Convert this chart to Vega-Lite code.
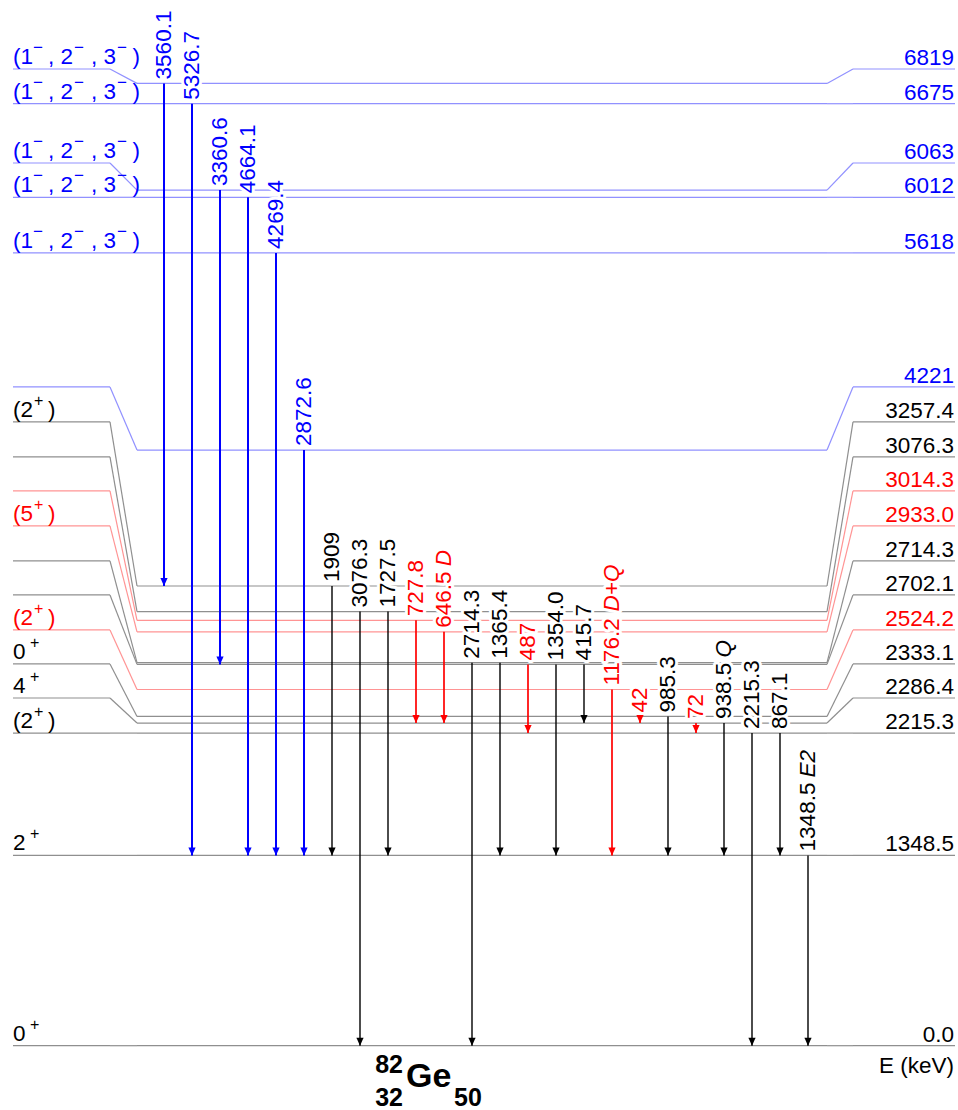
{
  "$schema": "https://vega.github.io/schema/vega-lite/v6.json",
  "width": 958,
  "height": 1110,
  "autosize": "none",
  "padding": 0,
  "background": "white",
  "config": {"view": {"stroke": null}},
  "datasets": {
    "levels": [
      {"E": 6819, "labelE": 6921, "c": "b", "sp": "C", "j": "", "sg": "−", "lab": "6819"},
      {"E": 6675, "labelE": 6675, "c": "b", "sp": "C", "j": "", "sg": "−", "lab": "6675"},
      {"E": 6063, "labelE": 6255, "c": "b", "sp": "C", "j": "", "sg": "−", "lab": "6063"},
      {"E": 6012, "labelE": 6012, "c": "b", "sp": "C", "j": "", "sg": "−", "lab": "6012"},
      {"E": 5618, "labelE": 5618, "c": "b", "sp": "C", "j": "", "sg": "−", "lab": "5618"},
      {"E": 4221, "labelE": 4668, "c": "b", "sp": "", "j": "", "sg": "", "lab": "4221"},
      {"E": 3257.4, "labelE": 4420, "c": "k", "sp": "A", "j": "(2", "sg": "+", "lab": "3257.4"},
      {"E": 3076.3, "labelE": 4172, "c": "k", "sp": "", "j": "", "sg": "", "lab": "3076.3"},
      {"E": 3014.3, "labelE": 3931, "c": "r", "sp": "", "j": "", "sg": "", "lab": "3014.3"},
      {"E": 2933.0, "labelE": 3683, "c": "r", "sp": "A", "j": "(5", "sg": "+", "lab": "2933.0"},
      {"E": 2714.3, "labelE": 3435, "c": "k", "sp": "", "j": "", "sg": "", "lab": "2714.3"},
      {"E": 2702.1, "labelE": 3194, "c": "k", "sp": "", "j": "", "sg": "", "lab": "2702.1"},
      {"E": 2524.2, "labelE": 2946, "c": "r", "sp": "A", "j": "(2", "sg": "+", "lab": "2524.2"},
      {"E": 2333.1, "labelE": 2705, "c": "k", "sp": "B", "j": "0", "sg": "+", "lab": "2333.1"},
      {"E": 2286.4, "labelE": 2464, "c": "k", "sp": "B", "j": "4", "sg": "+", "lab": "2286.4"},
      {"E": 2215.3, "labelE": 2215.3, "c": "k", "sp": "A", "j": "(2", "sg": "+", "lab": "2215.3"},
      {"E": 1348.5, "labelE": 1348.5, "c": "k", "sp": "B", "j": "2", "sg": "+", "lab": "1348.5"},
      {"E": 0, "labelE": 0, "c": "k", "sp": "B", "j": "0", "sg": "+", "lab": "0.0"}
    ],
    "gammas": [
      {"k": 1, "t": "3560.1", "s": "", "ei": 6819, "ef": 3257.4, "c": "b"},
      {"k": 2, "t": "5326.7", "s": "", "ei": 6675, "ef": 1348.5, "c": "b"},
      {"k": 3, "t": "3360.6", "s": "", "ei": 6063, "ef": 2702.1, "c": "b"},
      {"k": 4, "t": "4664.1", "s": "", "ei": 6012, "ef": 1348.5, "c": "b"},
      {"k": 5, "t": "4269.4", "s": "", "ei": 5618, "ef": 1348.5, "c": "b"},
      {"k": 6, "t": "2872.6", "s": "", "ei": 4221, "ef": 1348.5, "c": "b"},
      {"k": 7, "t": "1909", "s": "", "ei": 3257.4, "ef": 1348.5, "c": "k"},
      {"k": 8, "t": "3076.3", "s": "", "ei": 3076.3, "ef": 0, "c": "k"},
      {"k": 9, "t": "1727.5", "s": "", "ei": 3076.3, "ef": 1348.5, "c": "k"},
      {"k": 10, "t": "727.8", "s": "", "ei": 3014.3, "ef": 2286.4, "c": "r"},
      {"k": 11, "t": "646.5", "s": "D", "ei": 2933.0, "ef": 2286.4, "c": "r"},
      {"k": 12, "t": "2714.3", "s": "", "ei": 2714.3, "ef": 0, "c": "k"},
      {"k": 13, "t": "1365.4", "s": "", "ei": 2714.3, "ef": 1348.5, "c": "k"},
      {"k": 14, "t": "487", "s": "", "ei": 2702.1, "ef": 2215.3, "c": "r"},
      {"k": 15, "t": "1354.0", "s": "", "ei": 2702.1, "ef": 1348.5, "c": "k"},
      {"k": 16, "t": "415.7", "s": "", "ei": 2702.1, "ef": 2286.4, "c": "k"},
      {"k": 17, "t": "1176.2", "s": "D+Q", "ei": 2524.2, "ef": 1348.5, "c": "r"},
      {"k": 18, "t": "42", "s": "", "ei": 2333.1, "ef": 2286.4, "c": "r"},
      {"k": 19, "t": "985.3", "s": "", "ei": 2333.1, "ef": 1348.5, "c": "k"},
      {"k": 20, "t": "72", "s": "", "ei": 2286.4, "ef": 2215.3, "c": "r"},
      {"k": 21, "t": "938.5", "s": "Q", "ei": 2286.4, "ef": 1348.5, "c": "k"},
      {"k": 22, "t": "2215.3", "s": "", "ei": 2215.3, "ef": 0, "c": "k"},
      {"k": 23, "t": "867.1", "s": "", "ei": 2215.3, "ef": 1348.5, "c": "k"},
      {"k": 24, "t": "1348.5", "s": "E2", "ei": 1348.5, "ef": 0, "c": "k"}
    ],
    "one": [{"a": 1}]
  },
  "layer": [
    {
      "data": {"name": "levels"},
      "mark": {"type": "rule", "strokeWidth": 1.2},
      "encoding": {
        "x": {"datum": -4.393, "type": "quantitative", "scale": {"domain": [-4.857142857, 29.357142857], "nice": false, "zero": false}, "axis": null},
        "x2": {"datum": -0.929},
        "y": {"field": "labelE", "type": "quantitative", "scale": {"domain": [-455.6, 7410.0], "nice": false, "zero": false}, "axis": null},
        "color": {"field": "c", "type": "nominal", "scale": {"domain": ["b", "k", "r"], "range": ["#9191ff", "#8f8f8f", "#ff9494"]}, "legend": null}
      }
    },
    {
      "data": {"name": "levels"},
      "mark": {"type": "rule", "strokeWidth": 1.2},
      "encoding": {
        "x": {"datum": -0.929, "type": "quantitative", "scale": {"domain": [-4.857142857, 29.357142857], "nice": false, "zero": false}, "axis": null},
        "x2": {"datum": 0.036},
        "y": {"field": "labelE", "type": "quantitative", "scale": {"domain": [-455.6, 7410.0], "nice": false, "zero": false}, "axis": null},
        "y2": {"field": "E"},
        "color": {"field": "c", "type": "nominal", "scale": {"domain": ["b", "k", "r"], "range": ["#9191ff", "#8f8f8f", "#ff9494"]}, "legend": null}
      }
    },
    {
      "data": {"name": "levels"},
      "mark": {"type": "rule", "strokeWidth": 1.2},
      "encoding": {
        "x": {"datum": 0.036, "type": "quantitative", "scale": {"domain": [-4.857142857, 29.357142857], "nice": false, "zero": false}, "axis": null},
        "x2": {"datum": 24.679},
        "y": {"field": "E", "type": "quantitative", "scale": {"domain": [-455.6, 7410.0], "nice": false, "zero": false}, "axis": null},
        "color": {"field": "c", "type": "nominal", "scale": {"domain": ["b", "k", "r"], "range": ["#9191ff", "#8f8f8f", "#ff9494"]}, "legend": null}
      }
    },
    {
      "data": {"name": "levels"},
      "mark": {"type": "rule", "strokeWidth": 1.2},
      "encoding": {
        "x": {"datum": 24.679, "type": "quantitative", "scale": {"domain": [-4.857142857, 29.357142857], "nice": false, "zero": false}, "axis": null},
        "x2": {"datum": 25.607},
        "y": {"field": "E", "type": "quantitative", "scale": {"domain": [-455.6, 7410.0], "nice": false, "zero": false}, "axis": null},
        "y2": {"field": "labelE"},
        "color": {"field": "c", "type": "nominal", "scale": {"domain": ["b", "k", "r"], "range": ["#9191ff", "#8f8f8f", "#ff9494"]}, "legend": null}
      }
    },
    {
      "data": {"name": "levels"},
      "mark": {"type": "rule", "strokeWidth": 1.2},
      "encoding": {
        "x": {"datum": 25.607, "type": "quantitative", "scale": {"domain": [-4.857142857, 29.357142857], "nice": false, "zero": false}, "axis": null},
        "x2": {"datum": 29.25},
        "y": {"field": "labelE", "type": "quantitative", "scale": {"domain": [-455.6, 7410.0], "nice": false, "zero": false}, "axis": null},
        "color": {"field": "c", "type": "nominal", "scale": {"domain": ["b", "k", "r"], "range": ["#9191ff", "#8f8f8f", "#ff9494"]}, "legend": null}
      }
    },
    {
      "data": {"name": "gammas"},
      "mark": {"type": "text", "font": "Liberation Sans", "fontSize": 22.5, "angle": 270, "align": "left", "baseline": "middle", "dx": 4, "fill": "white", "stroke": "white", "strokeWidth": 6, "strokeJoin": "round"},
      "encoding": {
        "x": {"field": "k", "type": "quantitative", "scale": {"domain": [-4.857142857, 29.357142857], "nice": false, "zero": false}, "axis": null},
        "y": {"field": "ei", "type": "quantitative", "scale": {"domain": [-455.6, 7410.0], "nice": false, "zero": false}, "axis": null},
        "text": {"field": "t"}
      }
    },
    {
      "data": {"name": "gammas"},
      "transform": [{"filter": "datum.s != '' && length(datum.t) == 5"}],
      "mark": {"type": "text", "font": "Liberation Sans", "fontSize": 22.5, "fontStyle": "italic", "angle": 270, "align": "left", "baseline": "middle", "dx": 65.5, "fill": "white", "stroke": "white", "strokeWidth": 6, "strokeJoin": "round"},
      "encoding": {
        "x": {"field": "k", "type": "quantitative", "scale": {"domain": [-4.857142857, 29.357142857], "nice": false, "zero": false}, "axis": null},
        "y": {"field": "ei", "type": "quantitative", "scale": {"domain": [-455.6, 7410.0], "nice": false, "zero": false}, "axis": null},
        "text": {"field": "s"}
      }
    },
    {
      "data": {"name": "gammas"},
      "transform": [{"filter": "datum.s != '' && length(datum.t) == 6"}],
      "mark": {"type": "text", "font": "Liberation Sans", "fontSize": 22.5, "fontStyle": "italic", "angle": 270, "align": "left", "baseline": "middle", "dx": 78, "fill": "white", "stroke": "white", "strokeWidth": 6, "strokeJoin": "round"},
      "encoding": {
        "x": {"field": "k", "type": "quantitative", "scale": {"domain": [-4.857142857, 29.357142857], "nice": false, "zero": false}, "axis": null},
        "y": {"field": "ei", "type": "quantitative", "scale": {"domain": [-455.6, 7410.0], "nice": false, "zero": false}, "axis": null},
        "text": {"field": "s"}
      }
    },
    {
      "data": {"name": "gammas"},
      "mark": {"type": "text", "font": "Liberation Sans", "fontSize": 22.5, "angle": 270, "align": "left", "baseline": "middle", "dx": 4},
      "encoding": {
        "x": {"field": "k", "type": "quantitative", "scale": {"domain": [-4.857142857, 29.357142857], "nice": false, "zero": false}, "axis": null},
        "y": {"field": "ei", "type": "quantitative", "scale": {"domain": [-455.6, 7410.0], "nice": false, "zero": false}, "axis": null},
        "text": {"field": "t"},
        "color": {"field": "c", "type": "nominal", "scale": {"domain": ["b", "k", "r"], "range": ["#0000ff", "#000000", "#ff0000"]}, "legend": null}
      }
    },
    {
      "data": {"name": "gammas"},
      "transform": [{"filter": "datum.s != '' && length(datum.t) == 5"}],
      "mark": {"type": "text", "font": "Liberation Sans", "fontSize": 22.5, "fontStyle": "italic", "angle": 270, "align": "left", "baseline": "middle", "dx": 65.5},
      "encoding": {
        "x": {"field": "k", "type": "quantitative", "scale": {"domain": [-4.857142857, 29.357142857], "nice": false, "zero": false}, "axis": null},
        "y": {"field": "ei", "type": "quantitative", "scale": {"domain": [-455.6, 7410.0], "nice": false, "zero": false}, "axis": null},
        "text": {"field": "s"},
        "color": {"field": "c", "type": "nominal", "scale": {"domain": ["b", "k", "r"], "range": ["#0000ff", "#000000", "#ff0000"]}, "legend": null}
      }
    },
    {
      "data": {"name": "gammas"},
      "transform": [{"filter": "datum.s != '' && length(datum.t) == 6"}],
      "mark": {"type": "text", "font": "Liberation Sans", "fontSize": 22.5, "fontStyle": "italic", "angle": 270, "align": "left", "baseline": "middle", "dx": 78},
      "encoding": {
        "x": {"field": "k", "type": "quantitative", "scale": {"domain": [-4.857142857, 29.357142857], "nice": false, "zero": false}, "axis": null},
        "y": {"field": "ei", "type": "quantitative", "scale": {"domain": [-455.6, 7410.0], "nice": false, "zero": false}, "axis": null},
        "text": {"field": "s"},
        "color": {"field": "c", "type": "nominal", "scale": {"domain": ["b", "k", "r"], "range": ["#0000ff", "#000000", "#ff0000"]}, "legend": null}
      }
    },
    {
      "data": {"name": "gammas"},
      "mark": {"type": "rule"},
      "encoding": {
        "x": {"field": "k", "type": "quantitative", "scale": {"domain": [-4.857142857, 29.357142857], "nice": false, "zero": false}, "axis": null},
        "y": {"field": "ei", "type": "quantitative", "scale": {"domain": [-455.6, 7410.0], "nice": false, "zero": false}, "axis": null},
        "y2": {"field": "ef"},
        "color": {"field": "c", "type": "nominal", "scale": {"domain": ["b", "k", "r"], "range": ["#0000ff", "#000000", "#ff0000"]}, "legend": null},
        "strokeWidth": {"condition": [{"test": "datum.c === 'b'", "value": 2}, {"test": "datum.c === 'r'", "value": 1.7}], "value": 1.4}
      }
    },
    {
      "data": {"name": "gammas"},
      "mark": {"type": "point", "shape": "M-0.45,-1L0.45,-1L0,0Z", "filled": true, "size": 256, "opacity": 1, "strokeWidth": 0},
      "encoding": {
        "x": {"field": "k", "type": "quantitative", "scale": {"domain": [-4.857142857, 29.357142857], "nice": false, "zero": false}, "axis": null},
        "y": {"field": "ef", "type": "quantitative", "scale": {"domain": [-455.6, 7410.0], "nice": false, "zero": false}, "axis": null},
        "color": {"field": "c", "type": "nominal", "scale": {"domain": ["b", "k", "r"], "range": ["#0000ff", "#000000", "#ff0000"]}, "legend": null}
      }
    },
    {
      "data": {"name": "levels"},
      "transform": [{"filter": "datum.sp == 'A' || datum.sp == 'B'"}],
      "mark": {"type": "text", "font": "Liberation Sans", "fontSize": 22.5, "align": "left", "baseline": "alphabetic", "dy": -5},
      "encoding": {
        "x": {"datum": -4.393, "type": "quantitative", "scale": {"domain": [-4.857142857, 29.357142857], "nice": false, "zero": false}, "axis": null},
        "y": {"field": "labelE", "type": "quantitative", "scale": {"domain": [-455.6, 7410.0], "nice": false, "zero": false}, "axis": null},
        "text": {"field": "j"},
        "color": {"field": "c", "type": "nominal", "scale": {"domain": ["b", "k", "r"], "range": ["#0000ff", "#000000", "#ff0000"]}, "legend": null}
      }
    },
    {
      "data": {"name": "levels"},
      "transform": [{"filter": "datum.sp == 'A'"}],
      "mark": {"type": "text", "font": "Liberation Sans", "fontSize": 16, "align": "left", "baseline": "alphabetic", "dx": 21, "dy": -16},
      "encoding": {
        "x": {"datum": -4.393, "type": "quantitative", "scale": {"domain": [-4.857142857, 29.357142857], "nice": false, "zero": false}, "axis": null},
        "y": {"field": "labelE", "type": "quantitative", "scale": {"domain": [-455.6, 7410.0], "nice": false, "zero": false}, "axis": null},
        "text": {"field": "sg"},
        "color": {"field": "c", "type": "nominal", "scale": {"domain": ["b", "k", "r"], "range": ["#0000ff", "#000000", "#ff0000"]}, "legend": null}
      }
    },
    {
      "data": {"name": "levels"},
      "transform": [{"filter": "datum.sp == 'A'"}],
      "mark": {"type": "text", "text": ")", "font": "Liberation Sans", "fontSize": 22.5, "align": "left", "baseline": "alphabetic", "dx": 35, "dy": -5},
      "encoding": {
        "x": {"datum": -4.393, "type": "quantitative", "scale": {"domain": [-4.857142857, 29.357142857], "nice": false, "zero": false}, "axis": null},
        "y": {"field": "labelE", "type": "quantitative", "scale": {"domain": [-455.6, 7410.0], "nice": false, "zero": false}, "axis": null},
        "color": {"field": "c", "type": "nominal", "scale": {"domain": ["b", "k", "r"], "range": ["#0000ff", "#000000", "#ff0000"]}, "legend": null}
      }
    },
    {
      "data": {"name": "levels"},
      "transform": [{"filter": "datum.sp == 'B'"}],
      "mark": {"type": "text", "font": "Liberation Sans", "fontSize": 16, "align": "left", "baseline": "alphabetic", "dx": 17, "dy": -16},
      "encoding": {
        "x": {"datum": -4.393, "type": "quantitative", "scale": {"domain": [-4.857142857, 29.357142857], "nice": false, "zero": false}, "axis": null},
        "y": {"field": "labelE", "type": "quantitative", "scale": {"domain": [-455.6, 7410.0], "nice": false, "zero": false}, "axis": null},
        "text": {"field": "sg"},
        "color": {"field": "c", "type": "nominal", "scale": {"domain": ["b", "k", "r"], "range": ["#0000ff", "#000000", "#ff0000"]}, "legend": null}
      }
    },
    {
      "data": {"name": "levels"},
      "transform": [{"filter": "datum.sp == 'C'"}],
      "mark": {"type": "text", "text": "(1", "font": "Liberation Sans", "fontSize": 22.5, "align": "left", "baseline": "alphabetic", "dx": 0, "dy": -5},
      "encoding": {
        "x": {"datum": -4.393, "type": "quantitative", "scale": {"domain": [-4.857142857, 29.357142857], "nice": false, "zero": false}, "axis": null},
        "y": {"field": "labelE", "type": "quantitative", "scale": {"domain": [-455.6, 7410.0], "nice": false, "zero": false}, "axis": null},
        "color": {"field": "c", "type": "nominal", "scale": {"domain": ["b", "k", "r"], "range": ["#0000ff", "#000000", "#ff0000"]}, "legend": null}
      }
    },
    {
      "data": {"name": "levels"},
      "transform": [{"filter": "datum.sp == 'C'"}],
      "mark": {"type": "text", "text": ", 2", "font": "Liberation Sans", "fontSize": 22.5, "align": "left", "baseline": "alphabetic", "dx": 35, "dy": -5},
      "encoding": {
        "x": {"datum": -4.393, "type": "quantitative", "scale": {"domain": [-4.857142857, 29.357142857], "nice": false, "zero": false}, "axis": null},
        "y": {"field": "labelE", "type": "quantitative", "scale": {"domain": [-455.6, 7410.0], "nice": false, "zero": false}, "axis": null},
        "color": {"field": "c", "type": "nominal", "scale": {"domain": ["b", "k", "r"], "range": ["#0000ff", "#000000", "#ff0000"]}, "legend": null}
      }
    },
    {
      "data": {"name": "levels"},
      "transform": [{"filter": "datum.sp == 'C'"}],
      "mark": {"type": "text", "text": ", 3", "font": "Liberation Sans", "fontSize": 22.5, "align": "left", "baseline": "alphabetic", "dx": 78, "dy": -5},
      "encoding": {
        "x": {"datum": -4.393, "type": "quantitative", "scale": {"domain": [-4.857142857, 29.357142857], "nice": false, "zero": false}, "axis": null},
        "y": {"field": "labelE", "type": "quantitative", "scale": {"domain": [-455.6, 7410.0], "nice": false, "zero": false}, "axis": null},
        "color": {"field": "c", "type": "nominal", "scale": {"domain": ["b", "k", "r"], "range": ["#0000ff", "#000000", "#ff0000"]}, "legend": null}
      }
    },
    {
      "data": {"name": "levels"},
      "transform": [{"filter": "datum.sp == 'C'"}],
      "mark": {"type": "text", "text": ")", "font": "Liberation Sans", "fontSize": 22.5, "align": "left", "baseline": "alphabetic", "dx": 119.5, "dy": -5},
      "encoding": {
        "x": {"datum": -4.393, "type": "quantitative", "scale": {"domain": [-4.857142857, 29.357142857], "nice": false, "zero": false}, "axis": null},
        "y": {"field": "labelE", "type": "quantitative", "scale": {"domain": [-455.6, 7410.0], "nice": false, "zero": false}, "axis": null},
        "color": {"field": "c", "type": "nominal", "scale": {"domain": ["b", "k", "r"], "range": ["#0000ff", "#000000", "#ff0000"]}, "legend": null}
      }
    },
    {
      "data": {"name": "levels"},
      "transform": [{"filter": "datum.sp == 'C'"}],
      "mark": {"type": "text", "font": "Liberation Sans", "fontSize": 17, "align": "left", "baseline": "alphabetic", "dx": 20, "dy": -16},
      "encoding": {
        "x": {"datum": -4.393, "type": "quantitative", "scale": {"domain": [-4.857142857, 29.357142857], "nice": false, "zero": false}, "axis": null},
        "y": {"field": "labelE", "type": "quantitative", "scale": {"domain": [-455.6, 7410.0], "nice": false, "zero": false}, "axis": null},
        "text": {"field": "sg"},
        "color": {"field": "c", "type": "nominal", "scale": {"domain": ["b", "k", "r"], "range": ["#0000ff", "#000000", "#ff0000"]}, "legend": null}
      }
    },
    {
      "data": {"name": "levels"},
      "transform": [{"filter": "datum.sp == 'C'"}],
      "mark": {"type": "text", "font": "Liberation Sans", "fontSize": 17, "align": "left", "baseline": "alphabetic", "dx": 61, "dy": -16},
      "encoding": {
        "x": {"datum": -4.393, "type": "quantitative", "scale": {"domain": [-4.857142857, 29.357142857], "nice": false, "zero": false}, "axis": null},
        "y": {"field": "labelE", "type": "quantitative", "scale": {"domain": [-455.6, 7410.0], "nice": false, "zero": false}, "axis": null},
        "text": {"field": "sg"},
        "color": {"field": "c", "type": "nominal", "scale": {"domain": ["b", "k", "r"], "range": ["#0000ff", "#000000", "#ff0000"]}, "legend": null}
      }
    },
    {
      "data": {"name": "levels"},
      "transform": [{"filter": "datum.sp == 'C'"}],
      "mark": {"type": "text", "font": "Liberation Sans", "fontSize": 17, "align": "left", "baseline": "alphabetic", "dx": 104, "dy": -16},
      "encoding": {
        "x": {"datum": -4.393, "type": "quantitative", "scale": {"domain": [-4.857142857, 29.357142857], "nice": false, "zero": false}, "axis": null},
        "y": {"field": "labelE", "type": "quantitative", "scale": {"domain": [-455.6, 7410.0], "nice": false, "zero": false}, "axis": null},
        "text": {"field": "sg"},
        "color": {"field": "c", "type": "nominal", "scale": {"domain": ["b", "k", "r"], "range": ["#0000ff", "#000000", "#ff0000"]}, "legend": null}
      }
    },
    {
      "data": {"name": "levels"},
      "mark": {"type": "text", "font": "Liberation Sans", "fontSize": 22.5, "align": "right", "baseline": "alphabetic", "dy": -4},
      "encoding": {
        "x": {"datum": 29.214, "type": "quantitative", "scale": {"domain": [-4.857142857, 29.357142857], "nice": false, "zero": false}, "axis": null},
        "y": {"field": "labelE", "type": "quantitative", "scale": {"domain": [-455.6, 7410.0], "nice": false, "zero": false}, "axis": null},
        "text": {"field": "lab"},
        "color": {"field": "c", "type": "nominal", "scale": {"domain": ["b", "k", "r"], "range": ["#0000ff", "#000000", "#ff0000"]}, "legend": null}
      }
    },
    {
      "data": {"name": "one"},
      "mark": {"type": "text", "text": "82", "font": "Liberation Sans", "fontSize": 25, "fontWeight": "bold", "align": "right", "baseline": "alphabetic", "color": "black"},
      "encoding": {
        "x": {"datum": 9.536, "type": "quantitative", "scale": {"domain": [-4.857142857, 29.357142857], "nice": false, "zero": false}, "axis": null},
        "y": {"datum": -193.5, "type": "quantitative", "scale": {"domain": [-455.6, 7410.0], "nice": false, "zero": false}, "axis": null}
      }
    },
    {
      "data": {"name": "one"},
      "mark": {"type": "text", "text": "32", "font": "Liberation Sans", "fontSize": 25, "fontWeight": "bold", "align": "right", "baseline": "alphabetic", "color": "black"},
      "encoding": {
        "x": {"datum": 9.536, "type": "quantitative", "scale": {"domain": [-4.857142857, 29.357142857], "nice": false, "zero": false}, "axis": null},
        "y": {"datum": -427.3, "type": "quantitative", "scale": {"domain": [-455.6, 7410.0], "nice": false, "zero": false}, "axis": null}
      }
    },
    {
      "data": {"name": "one"},
      "mark": {"type": "text", "text": "Ge", "font": "Liberation Sans", "fontSize": 34, "fontWeight": "bold", "align": "left", "baseline": "alphabetic", "color": "black"},
      "encoding": {
        "x": {"datum": 9.643, "type": "quantitative", "scale": {"domain": [-4.857142857, 29.357142857], "nice": false, "zero": false}, "axis": null},
        "y": {"datum": -292.7, "type": "quantitative", "scale": {"domain": [-455.6, 7410.0], "nice": false, "zero": false}, "axis": null}
      }
    },
    {
      "data": {"name": "one"},
      "mark": {"type": "text", "text": "50", "font": "Liberation Sans", "fontSize": 25, "fontWeight": "bold", "align": "left", "baseline": "alphabetic", "color": "black"},
      "encoding": {
        "x": {"datum": 11.357, "type": "quantitative", "scale": {"domain": [-4.857142857, 29.357142857], "nice": false, "zero": false}, "axis": null},
        "y": {"datum": -427.3, "type": "quantitative", "scale": {"domain": [-455.6, 7410.0], "nice": false, "zero": false}, "axis": null}
      }
    },
    {
      "data": {"name": "one"},
      "mark": {"type": "text", "text": "E (keV)", "font": "Liberation Sans", "fontSize": 22.5, "align": "right", "baseline": "alphabetic", "color": "black"},
      "encoding": {
        "x": {"datum": 29.214, "type": "quantitative", "scale": {"domain": [-4.857142857, 29.357142857], "nice": false, "zero": false}, "axis": null},
        "y": {"datum": -193.5, "type": "quantitative", "scale": {"domain": [-455.6, 7410.0], "nice": false, "zero": false}, "axis": null}
      }
    }
  ],
  "resolve": {"scale": {"color": "independent"}}
}
